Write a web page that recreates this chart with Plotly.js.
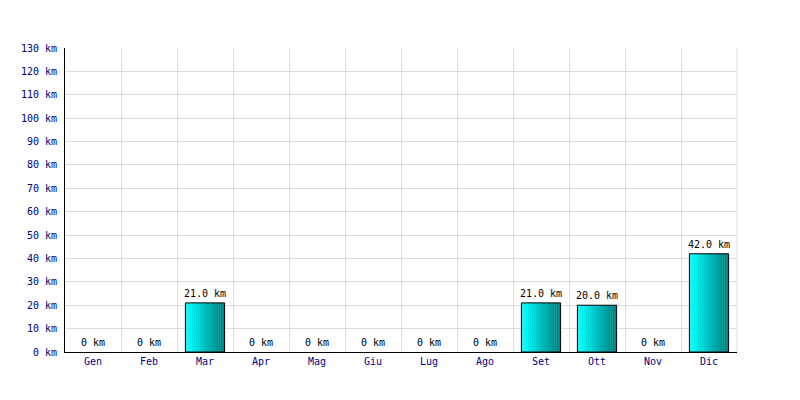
<!DOCTYPE html>
<html>
<head>
<meta charset="utf-8">
<script src="https://cdn.plot.ly/plotly-3.0.1.min.js"></script>
<style>html,body{margin:0;padding:0;background:#fff;}#chart{width:800px;height:400px;}</style>
</head>
<body>
<div id="chart"></div>
<script>
var months = ["Gen","Feb","Mar","Apr","Mag","Giu","Lug","Ago","Set","Ott","Nov","Dic"];
var distances = [0, 0, 21, 0, 0, 0, 0, 0, 21, 20, 0, 42];
var valueLabels = ["0 km","0 km","21.0 km","0 km","0 km","0 km","0 km","0 km","21.0 km","20.0 km","0 km","42.0 km"];

var barWidth = 0.7;
var slices = 20;
var traces = [];
function lerp(a, b, t) { return Math.round(a + (b - a) * t); }
for (var i = 0; i < slices; i++) {
  var t = i / (slices - 1);
  var col = 'rgb(0,' + lerp(250, 128, t) + ',' + lerp(250, 128, t) + ')';
  traces.push({
    type: 'bar', x: months, y: distances,
    width: barWidth / slices + 0.004,
    offset: -barWidth / 2 + i * barWidth / slices,
    marker: {color: col, line: {width: 0}},
    hoverinfo: 'skip', showlegend: false
  });
}
traces.push({
  type: 'bar', x: months, y: distances, width: barWidth,
  marker: {color: 'rgba(0,0,0,0)', line: {
    color: distances.map(function (v) { return v > 0 ? '#000' : 'rgba(0,0,0,0)'; }), width: 1}},
  hoverinfo: 'skip', showlegend: false
});

var annotations = months.map(function (m, k) {
  return {x: m, y: distances[k], xref: 'x', yref: 'y', text: valueLabels[k],
    showarrow: false, yanchor: 'bottom', yshift: 2,
    font: {family: 'DejaVu Sans Mono', size: 10, color: '#000'}};
});

var layout = {
  width: 800, height: 400,
  margin: {l: 65, r: 63, t: 48, b: 48},
  paper_bgcolor: '#fff', plot_bgcolor: '#fff',
  barmode: 'overlay',
  font: {family: 'DejaVu Sans Mono', size: 10, color: '#000080'},
  xaxis: {
    type: 'category', tickson: 'boundaries', ticks: '',
    showgrid: true, gridcolor: '#dcdcdc', gridwidth: 1,
    showline: true, linecolor: '#000', linewidth: 1,
    tickfont: {family: 'DejaVu Sans Mono', size: 10, color: '#000080'},
    range: [-0.5, 11.5], fixedrange: true
  },
  yaxis: {
    range: [0, 130], dtick: 10, tick0: 0, ticksuffix: ' km',
    showgrid: true, gridcolor: '#dcdcdc', gridwidth: 1,
    showline: true, linecolor: '#000', linewidth: 1,
    ticks: '', zeroline: false, ticklabelstandoff: 5,
    tickfont: {family: 'DejaVu Sans Mono', size: 10, color: '#000080'},
    fixedrange: true
  },
  annotations: annotations,
  shapes: [{type: 'line', xref: 'paper', yref: 'paper', x0: 1, x1: 1, y0: 0, y1: 1, line: {color: '#dcdcdc', width: 1}, layer: 'below'}]
};
Plotly.newPlot('chart', traces, layout, {displayModeBar: false, staticPlot: true});
</script>
</body>
</html>
